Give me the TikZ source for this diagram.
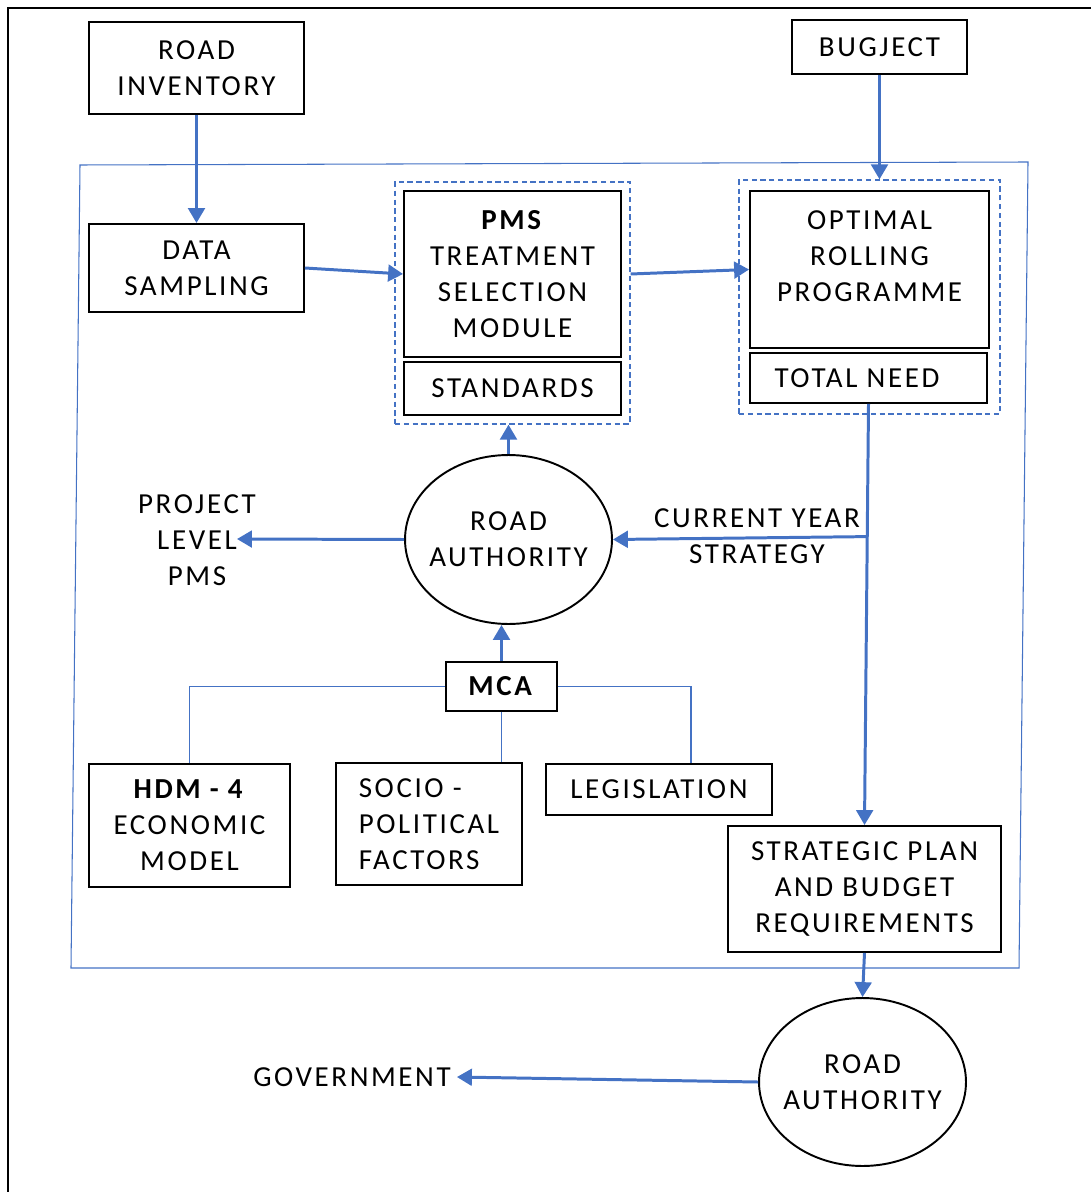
\documentclass[tikz,border=0pt]{standalone}
\usepackage{fontspec}
\setmainfont{Carlito}[LetterSpace=9]
\usetikzlibrary{arrows.meta,calc,positioning,shapes.geometric,fit}
\definecolor{flowblue}{HTML}{4472C4}

\begin{document}
\begin{tikzpicture}[x=0.02cm,y=-0.02cm,
  >={Triangle[length=8.5pt,width=9.5pt]},
  every node/.style={font=\fontsize{16.5}{20.4}\selectfont,align=center},
  box/.style={draw,line width=1.1pt,inner sep=0pt},
  oval/.style={draw,ellipse,line width=1.1pt,inner ysep=0pt,inner xsep=-0.15cm},
  grp/.style={draw=flowblue,dash pattern=on 3pt off 2pt,line width=0.8pt},
  flow/.style={->,draw=flowblue,line width=1.7pt},
  link/.style={draw=flowblue,line width=0.6pt}]
  \useasboundingbox (0,0) rectangle (1091,1192);
  % frame
  \draw[line width=1.2pt] (8,1192) -- (8,8) -- (1091,8);
  \draw[link] (80,165) -- (1028,162) -- (1019,968) -- (71,968) -- cycle;
  % inputs
  \node[box,minimum width=4.3cm,minimum height=1.84cm] (inv) at (196.5,68) {ROAD\\INVENTORY};
  \node[box,minimum width=3.5cm,minimum height=1.08cm] (bud) at (879.5,47) {BUGJECT};
  \node[box,minimum width=4.3cm,minimum height=1.76cm] (samp) at (196.5,268) {DATA\\SAMPLING};
  % PMS module
  \node[box,minimum width=4.34cm,minimum height=3.32cm] (pms) at (512.5,274) {\textbf{PMS}\\TREATMENT\\SELECTION\\MODULE};
  \node[box,minimum width=4.34cm,minimum height=1.06cm] (std) at (512.5,388.5) {STANDARDS};
  \node[grp,fit=(pms)(std),inner sep=0.16cm] (pmsgrp) {};
  % programme
  \node[box,minimum width=4.78cm,minimum height=3.14cm] (opt) at (869.5,269.5) {};
  \node (opttxt) at (869.5,256) {OPTIMAL\\ROLLING\\PROGRAMME};
  \node[box,minimum width=4.74cm,minimum height=1.0cm] (need) at (868.5,378) {TOTAL NEED\hspace{0.46cm}};
  \node[grp,fit=(opt)(need),inner sep=0.2cm] (optgrp) {};
  % authority
  \node[oval,minimum width=4.14cm,minimum height=3.38cm] (auth) at (508.5,539.5) {ROAD\\AUTHORITY};
  \node (proj) at (197,540) {PROJECT\\LEVEL\\PMS};
  \coordinate (projtip) at (237,539);
  \node (cys) at (757,536) {CURRENT YEAR\\STRATEGY};
  % MCA
  \node[box,minimum width=2.22cm,minimum height=0.98cm] (mca) at (501.5,686.5) {\textbf{MCA}};
  \node[box,minimum width=4.02cm,minimum height=2.46cm] (hdm) at (189.5,825.5) {\textbf{HDM - 4}\\ECONOMIC\\MODEL};
  \node[box,align=left,minimum width=3.72cm,minimum height=2.44cm] (socio) at (429,824) {SOCIO -\\POLITICAL\\FACTORS};
  \node[box,minimum width=4.52cm,minimum height=1.02cm] (leg) at (659,789.5) {LEGISLATION};
  % outputs
  \node[box,minimum width=5.46cm,minimum height=2.52cm] (plan) at (864.5,889) {STRATEGIC PLAN\\AND BUDGET\\REQUIREMENTS};
  \node[oval,minimum width=4.14cm,minimum height=3.36cm] (auth2) at (862.5,1082) {ROAD\\AUTHORITY};
  \node (gov) at (352,1077) {GOVERNMENT};
  % connectors
  \draw[flow] (inv.south) -- (samp.north);
  \draw[flow] (samp.east) -- (pms.west);
  \draw[flow] (pmsgrp.east |- pms.center) -- (opt.west);
  \draw[flow] (bud.south) -- (bud.south |- optgrp.north);
  \draw[flow] (auth.north) -- (auth.north |- pmsgrp.south);
  \coordinate (split) at ($(need.south)!0.315!(plan.north)$);
  \draw[flow] (need.south) -- (plan.north);
  \draw[flow] (split) -- (auth.east);
  \draw[flow] (auth.west) -- (projtip);
  \draw[flow] (mca.north) -- (mca.north |- auth.south);
  \draw[link] (mca.west) -| (hdm.north);
  \draw[link] (mca.south) -- (mca.south |- socio.north);
  \draw[link] (mca.east) -| ($(leg.north)+(32,0)$);
  \draw[flow] (plan.south) -- (auth2.north);
  \draw[flow] (auth2.west) -- (gov.east);
\end{tikzpicture}
\end{document}
